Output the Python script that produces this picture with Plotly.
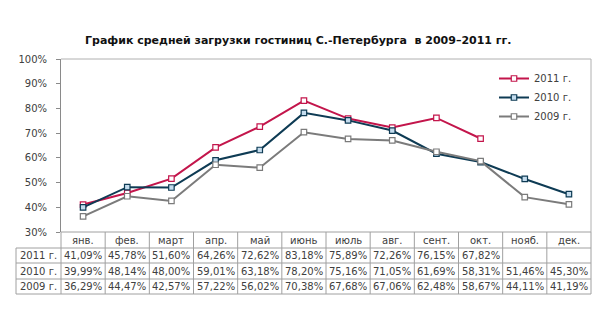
import plotly.graph_objects as go

# Monthly average hotel occupancy, St. Petersburg (%)
months = ["янв.", "фев.", "март", "апр.", "май", "июнь",
          "июль", "авг.", "сент.", "окт.", "нояб.", "дек."]
occ_2011 = [41.09, 45.78, 51.60, 64.26, 72.62, 83.18, 75.89, 72.26, 76.15, 67.82, None, None]
occ_2010 = [39.99, 48.14, 48.00, 59.01, 63.18, 78.20, 75.16, 71.05, 61.69, 58.31, 51.46, 45.30]
occ_2009 = [36.29, 44.47, 42.57, 57.22, 56.02, 70.38, 67.68, 67.06, 62.48, 58.67, 44.11, 41.19]
series_names = ["2011 г.", "2010 г.", "2009 г."]
y_ticks = [30, 40, 50, 60, 70, 80, 90, 100]

series = [occ_2011, occ_2010, occ_2009]
line_colors = ["#c3154b", "#0e3b54", "#7b7b7b"]
marker_fills = ["#ffffff", "#c4dcee", "#ffffff"]

W, H = 604, 326
L, R, T, B = 61, 13, 59, 94
PW, PH = W - L - R, H - T - B
FONT = "DejaVu Sans"
TXT = "#404040"
GRID = "#a0a0a0"


def px_x(px):
    return (px - L) / PW


def px_y(py):
    return (H - B - py) / PH


fig = go.Figure()
for name, vals, lc, mf in zip(series_names, series, line_colors, marker_fills):
    fig.add_trace(go.Scatter(
        x=months, y=vals, name=name, mode="lines+markers",
        line=dict(color=lc, width=2),
        marker=dict(symbol="square", size=5.5, color=mf, line=dict(color=lc, width=1.2)),
        legendgroup=name, connectgaps=False,
    ))

shapes = []
# plot frame: top and right edges
shapes.append(dict(type="line", xref="paper", yref="paper", x0=0, x1=1, y0=1, y1=1,
                   line=dict(color="#b0b0b0", width=1)))
shapes.append(dict(type="line", xref="paper", yref="paper", x0=1, x1=1, y0=0, y1=1,
                   line=dict(color="#b0b0b0", width=1)))

# data table under the category axis
row_lines = [232, 248, 263, 279, 294]
table_left = 16
ncat = len(months)
for i, py in enumerate(row_lines):
    x0 = 0 if i == 0 else px_x(table_left)
    shapes.append(dict(type="line", xref="paper", yref="paper",
                       x0=x0, x1=1, y0=px_y(py), y1=px_y(py),
                       line=dict(color=GRID, width=1)))
for k in range(ncat + 1):
    shapes.append(dict(type="line", xref="paper", yref="paper",
                       x0=k / ncat, x1=k / ncat, y0=px_y(232), y1=px_y(294),
                       line=dict(color=GRID, width=1)))
shapes.append(dict(type="line", xref="paper", yref="paper",
                   x0=px_x(table_left), x1=px_x(table_left), y0=px_y(248), y1=px_y(294),
                   line=dict(color=GRID, width=1)))

annotations = []
cell_font = dict(family=FONT, size=10, color=TXT)
row_mid = [(row_lines[i] + row_lines[i + 1]) / 2 for i in range(len(row_lines) - 1)]
for k, m in enumerate(months):
    annotations.append(dict(xref="paper", yref="paper", x=(k + 0.5) / ncat, y=px_y(row_mid[0]),
                            text=m, showarrow=False, font=cell_font,
                            xanchor="center", yanchor="middle"))
for r, (name, vals) in enumerate(zip(series_names, series)):
    yy = px_y(row_mid[r + 1])
    annotations.append(dict(xref="paper", yref="paper", x=px_x((table_left + L) / 2), y=yy,
                            text=name, showarrow=False, font=cell_font,
                            xanchor="center", yanchor="middle"))
    for k, v in enumerate(vals):
        if v is None:
            continue
        annotations.append(dict(xref="paper", yref="paper", x=(k + 0.5) / ncat, y=yy,
                                text=f"{v:.2f}%".replace(".", ","), showarrow=False,
                                font=cell_font, xanchor="center", yanchor="middle"))

annotations.append(dict(xref="paper", yref="paper", x=px_x(298), y=px_y(41),
                        text="<b>График средней загрузки гостиниц С.-Петербурга \u00a0в 2009–2011 гг.</b>",
                        showarrow=False, xanchor="center", yanchor="middle",
                        font=dict(family=FONT, size=11, color="#111111")))

fig.update_layout(
    width=W, height=H,
    margin=dict(l=L, r=R, t=T, b=B),
    paper_bgcolor="white", plot_bgcolor="white",
    font=dict(family=FONT, size=10, color=TXT),
    showlegend=True,
    legend=dict(x=px_x(494), y=px_y(64), xanchor="left", yanchor="top",
                bgcolor="rgba(0,0,0,0)", itemwidth=30, tracegroupgap=0,
                font=dict(family=FONT, size=10, color=TXT)),
    xaxis=dict(range=[-0.5, ncat - 0.5], showticklabels=False, showgrid=False,
               zeroline=False, showline=False, ticks=""),
    yaxis=dict(range=[30, 100], tickvals=y_ticks,
               ticktext=[f"{v}%" for v in y_ticks],
               showgrid=False, zeroline=False, showline=True, linecolor="#8a8a8a",
               linewidth=1, ticks="outside", ticklen=4, tickcolor="#8a8a8a",
               ticklabelstandoff=7, tickfont=dict(family=FONT, size=10, color=TXT)),
    shapes=shapes, annotations=annotations,
)

fig.write_html("out.html")
